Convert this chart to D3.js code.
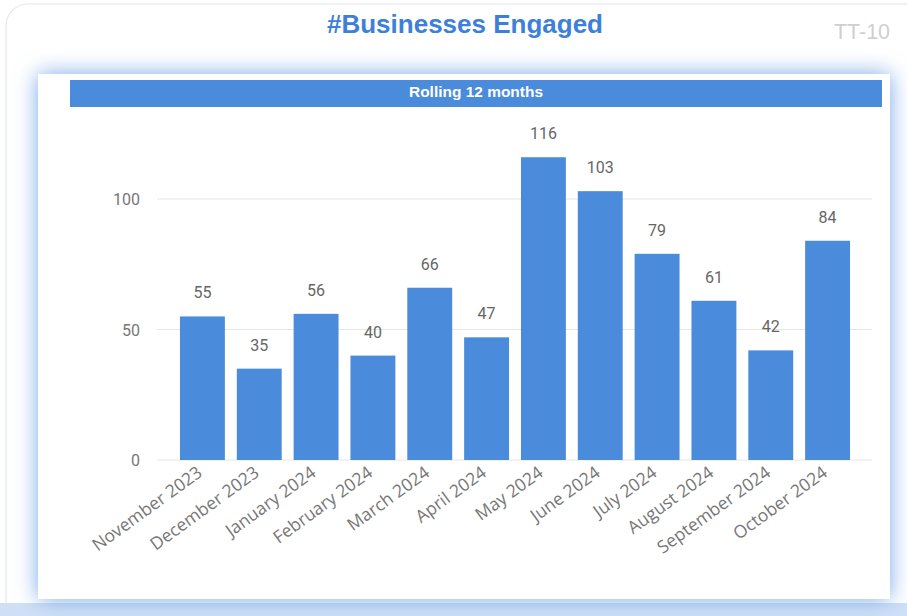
<!DOCTYPE html>
<html><head><meta charset="utf-8">
<script src="https://cdn.jsdelivr.net/npm/d3@7"></script>
<style>html,body{margin:0;padding:0;background:#fff;overflow:hidden}</style>
</head><body>
<svg id="c" width="907" height="616"></svg>
<script>
const categories = ["November 2023","December 2023","January 2024","February 2024","March 2024","April 2024","May 2024","June 2024","July 2024","August 2024","September 2024","October 2024"];
const values = [55,35,56,40,66,47,116,103,79,61,42,84];
const yTicks = [0,50,100];
const titleText = "#Businesses Engaged";
const subtitleText = "Rolling 12 months";
const codeText = "TT-10";

const svg = d3.select("#c");
const defs = svg.append("defs");
const f = defs.append("filter").attr("id","glow").attr("x","-10%").attr("y","-15%").attr("width","120%").attr("height","130%");
f.append("feGaussianBlur").attr("in","SourceAlpha").attr("stdDeviation",11).attr("result","b");
f.append("feFlood").attr("flood-color","#5f98e3").attr("flood-opacity",0.85);
f.append("feComposite").attr("in2","b").attr("operator","in").attr("result","s");
const m = f.append("feMerge"); m.append("feMergeNode").attr("in","s"); m.append("feMergeNode").attr("in","SourceGraphic");

// outer card
svg.append("rect").attr("x",6).attr("y",4).attr("width",920).attr("height",640).attr("rx",22)
  .attr("fill","#fff").attr("stroke","#e3e6ea").attr("stroke-width",1.2);
svg.append("rect").attr("x",0).attr("y",603).attr("width",907).attr("height",13).attr("fill","#cfe0f6");

// inner panel with glow
svg.append("rect").attr("x",38).attr("y",74).attr("width",852).attr("height",525)
  .attr("fill","#fff").attr("filter","url(#glow)");

// title
svg.append("text").attr("x",465).attr("y",33).attr("text-anchor","middle")
  .attr("font-family","Liberation Sans, Arial, sans-serif").attr("font-weight","bold")
  .attr("font-size",25).attr("textLength",276).attr("lengthAdjust","spacingAndGlyphs")
  .attr("fill","#3d7fd9").text(titleText);
svg.append("text").attr("x",890).attr("y",39).attr("text-anchor","end")
  .attr("font-family","Liberation Sans, sans-serif").attr("font-size",22)
  .attr("textLength",56).attr("lengthAdjust","spacingAndGlyphs").attr("fill","#cfcfcf").text(codeText);

// header bar
svg.append("rect").attr("x",70).attr("y",80).attr("width",812).attr("height",27).attr("fill","#4a8bdb");
svg.append("text").attr("x",476).attr("y",97).attr("text-anchor","middle")
  .attr("font-family","Liberation Sans, sans-serif").attr("font-weight","bold")
  .attr("font-size",15).attr("textLength",134).attr("lengthAdjust","spacingAndGlyphs")
  .attr("fill","#fff").text(subtitleText);

// scales
const y = d3.scaleLinear().domain([0,100]).range([460,199]);
const x = d3.scaleBand().domain(categories).range([168.6,861.4]).paddingInner(0.21).paddingOuter(0.2);

// gridlines
svg.append("g").selectAll("line").data(yTicks).join("line")
  .attr("x1",157).attr("x2",872).attr("y1",d=>y(d)).attr("y2",d=>y(d))
  .attr("stroke","#e6e6e6").attr("stroke-width",1);

const yAxis = d3.axisLeft(y).tickValues(yTicks).tickSize(0).tickPadding(0);
const ya = svg.append("g").attr("transform","translate(140,0)").call(yAxis);
ya.select(".domain").remove();
ya.selectAll("text").attr("font-family","Roboto, sans-serif").attr("font-size",16).attr("fill","#777").attr("dy","0.35em");

// bars
svg.append("g").selectAll("rect").data(values).join("rect")
  .attr("x",(d,i)=>x(categories[i])).attr("width",x.bandwidth())
  .attr("y",d=>y(d)).attr("height",d=>y(0)-y(d)).attr("fill","#4a8bdb");

// value labels
svg.append("g").selectAll("text").data(values).join("text")
  .attr("x",(d,i)=>x(categories[i])+x.bandwidth()/2).attr("y",d=>y(d)-18)
  .attr("text-anchor","middle").attr("font-family","Roboto, sans-serif").attr("font-size",16)
  .attr("fill","#666").text(d=>d);

// x axis labels
const xAxis = d3.axisBottom(x).tickSize(0).tickPadding(0);
const xa = svg.append("g").attr("transform","translate(0,460)").call(xAxis);
xa.select(".domain").remove();
xa.selectAll("text").attr("font-family","Open Sans, sans-serif").attr("font-size",17.5).attr("fill","#777")
  .attr("text-anchor","end").attr("dy",0).attr("transform","translate(1,15) rotate(-36)");
</script>
</body></html>
